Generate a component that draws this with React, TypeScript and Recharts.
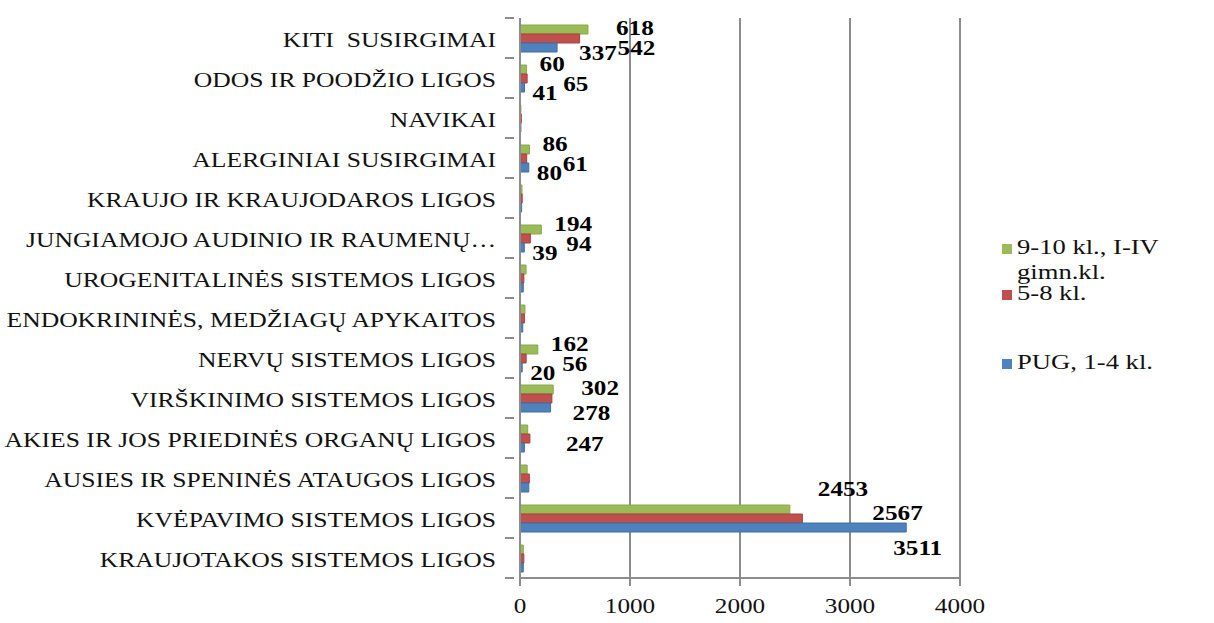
import { BarChart, Bar, XAxis, YAxis, CartesianGrid, LabelList } from 'recharts'

const categories = [
  'KITI  SUSIRGIMAI',
  'ODOS IR POODŽIO LIGOS',
  'NAVIKAI',
  'ALERGINIAI SUSIRGIMAI',
  'KRAUJO IR KRAUJODAROS LIGOS',
  'JUNGIAMOJO AUDINIO IR RAUMENŲ…',
  'UROGENITALINĖS SISTEMOS LIGOS',
  'ENDOKRININĖS, MEDŽIAGŲ APYKAITOS',
  'NERVŲ SISTEMOS LIGOS',
  'VIRŠKINIMO SISTEMOS LIGOS',
  'AKIES IR JOS PRIEDINĖS ORGANŲ LIGOS',
  'AUSIES IR SPENINĖS ATAUGOS LIGOS',
  'KVĖPAVIMO SISTEMOS LIGOS',
  'KRAUJOTAKOS SISTEMOS LIGOS',
]

const pug = [337, 41, 8, 80, 15, 39, 30, 25, 20, 278, 40, 80, 3511, 30]
const kl58 = [542, 65, 12, 61, 20, 94, 35, 40, 56, 290, 90, 85, 2567, 35]
const gimn = [618, 60, 8, 86, 18, 194, 55, 45, 162, 302, 70, 65, 2453, 30]

// data labels as shown in the original (some are missing / misplaced there)
const pugLabels = ['337', '41', '', '80', '', '39', '', '', '20', '278', '', '', '3511', '']
const kl58Labels = ['542', '65', '', '61', '', '94', '', '', '56', '', '247', '', '2567', '']
const gimnLabels = ['618', '60', '', '86', '', '194', '', '', '162', '302', '', '', '2453', '']

const xTicks = [0, 1000, 2000, 3000, 4000]

const data = categories.map((name, i) => ({
  name,
  pug: pug[i],
  kl58: kl58[i],
  gimn: gimn[i],
  pugLabel: pugLabels[i],
  kl58Label: kl58Labels[i],
  gimnLabel: gimnLabels[i],
}))

const FONT = '"Liberation Serif", "Times New Roman", serif'
const SX = 1.2 // the source picture is stretched horizontally

type Off = [number, number]

// short / medium / long bars get their labels pushed differently (like the Excel 3D chart)
const makeLabel = (short: Off, mid: Off, long: Off) => (props: any) => {
  const { x, y, width, height, value } = props
  if (!value) return null
  const w = Number(width)
  const [dx, dy] = w > 200 ? long : w > 25 ? mid : short
  const tx = Number(x) + w + dx
  const ty = Number(y) + Number(height) / 2 + dy
  return (
    <text
      transform={`translate(${tx},${ty}) scale(1.26,1)`}
      dominantBaseline="central"
      fontFamily={FONT}
      fontWeight="bold"
      fontSize={20}
      fill="#000"
    >
      {value}
    </text>
  )
}

const CatTick = (props: any) => {
  const { x, y, payload, index } = props
  const ax = Number(x) + 18
  return (
    <g>
      {index === 0 && <line x1={ax - 9} x2={ax} y1={y - 20} y2={y - 20} stroke="#8c8c8c" strokeWidth={2} />}
      <line x1={ax - 9} x2={ax} y1={y + 20} y2={y + 20} stroke="#8c8c8c" strokeWidth={2} />
      <text
        transform={`translate(${x},${y + 2}) scale(1.22,1)`}
        textAnchor="end"
        dominantBaseline="central"
        fontFamily={FONT}
        fontSize={21}
        fill="#111"
        style={{ whiteSpace: 'pre' }}
      >
        {payload.value}
      </text>
    </g>
  )
}

const NumTick = (props: any) => {
  const { x, y, payload } = props
  return (
    <text
      transform={`translate(${x},${y + 18}) scale(${SX},1)`}
      textAnchor="middle"
      dominantBaseline="central"
      fontFamily={FONT}
      fontSize={21}
      fill="#111"
    >
      {payload.value}
    </text>
  )
}

const legendItems = [
  { color: '#9BBB59', lines: ['9-10 kl., I-IV', 'gimn.kl.'], top: 0 },
  { color: '#C0504D', lines: ['5-8 kl.'], top: 46 },
  { color: '#4F81BD', lines: ['PUG, 1-4 kl.'], top: 115 },
]

function ChartLegend() {
  return (
    <div
      style={{
        position: 'absolute',
        left: 1002,
        top: 235,
        width: 200,
        height: 150,
        fontFamily: FONT,
        fontSize: 20,
        color: '#111',
      }}
    >
      {legendItems.map((it) => (
        <div key={it.color} style={{ position: 'absolute', top: it.top, left: 0, display: 'flex' }}>
          <div style={{ width: 10, height: 10, background: it.color, marginTop: 9, marginRight: 5, flex: 'none' }} />
          <div style={{ lineHeight: '25px', transform: 'scaleX(1.33)', transformOrigin: 'left', whiteSpace: 'nowrap' }}>
            {it.lines.map((l) => (
              <div key={l}>{l}</div>
            ))}
          </div>
        </div>
      ))}
    </div>
  )
}

export default function App() {
  return (
    <div style={{ position: 'absolute', left: 0, top: 0, width: 1214, height: 623, background: '#fff' }}>
      <BarChart
        width={1214}
        height={623}
        data={data}
        layout="vertical"
        margin={{ top: 18, right: 254, bottom: 15, left: 0 }}
        barSize={9}
        barGap={0}
      >
        <CartesianGrid horizontal={false} stroke="#8c8c8c" strokeWidth={2} />
        <XAxis
          type="number"
          domain={[0, 4000]}
          ticks={xTicks}
          height={30}
          axisLine={{ stroke: '#8c8c8c', strokeWidth: 2 }}
          tickLine={{ stroke: '#8c8c8c', strokeWidth: 2 }}
          tickSize={8}
          tick={<NumTick />}
        />
        <YAxis
          type="category"
          dataKey="name"
          width={520}
          axisLine={{ stroke: '#8c8c8c', strokeWidth: 2 }}
          tickLine={false}
          tickMargin={18}
          interval={0}
          tick={<CatTick />}
        />
        <Bar dataKey="gimn" name="9-10 kl., I-IV gimn.kl." fill="#9BBB59" stroke="#87a84a" strokeWidth={1} isAnimationActive={false}>
          <LabelList dataKey="gimnLabel" content={makeLabel([13, -5], [28, -1], [28, -20])} />
        </Bar>
        <Bar dataKey="kl58" name="5-8 kl." fill="#C0504D" stroke="#a8403d" strokeWidth={1} isAnimationActive={false}>
          <LabelList dataKey="kl58Label" content={makeLabel([36, 6], [38, 10], [70, -5])} />
        </Bar>
        <Bar dataKey="pug" name="PUG, 1-4 kl." fill="#4F81BD" stroke="#416ea5" strokeWidth={1} isAnimationActive={false}>
          <LabelList dataKey="pugLabel" content={makeLabel([8, 6], [22, 6], [-13, 21])} />
        </Bar>
      </BarChart>
      <ChartLegend />
    </div>
  )
}
